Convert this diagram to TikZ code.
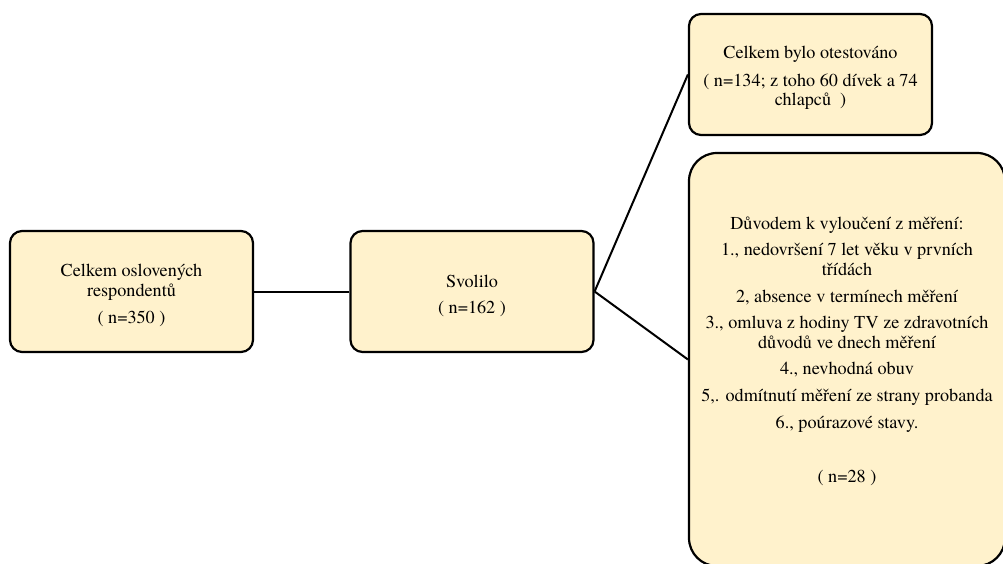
\documentclass[tikz,border=0pt]{standalone}
\usepackage{fontspec}
\setmainfont{texgyretermes-regular.otf}
\definecolor{boxfill}{HTML}{FFF2CC}
\newcommand{\topgap}[1]{\rule{0pt}{#1}}
\begin{document}
\begin{tikzpicture}[x=1pt,y=-1pt,
  box/.style={draw=black, line width=2.2pt, fill=boxfill, rounded corners=12pt,
    align=center, inner sep=0pt, font=\fontsize{18.2}{19.3}\selectfont},
  conn/.style={line width=2pt}]
\useasboundingbox (0,0) rectangle (1003,564);
\clip (0,0) rectangle (1003,564);
\node[box, minimum width=243pt, minimum height=121pt] (a) at (131.5,291.5)
  {\topgap{21pt}Celkem oslovených\\respondentů\\[8.5pt]( n=350 )};
\node[box, minimum width=243pt, minimum height=121pt] (b) at (472,291.5)
  {\topgap{21pt}Svolilo\\[7pt]( n=162 )};
\node[box, minimum width=243pt, minimum height=121pt] (c) at (810.5,74.5)
  {\topgap{19pt}Celkem bylo otestováno\\[8pt]( n=134; z toho 60 dívek a 74\\chlapců\ \ )};
\node[box, rounded corners=28pt, minimum width=316pt, minimum height=413pt] (d) at (847,359.5)
  {Důvodem k vyloučení z měření:\\[7.5pt]
   1., nedovršení 7 let věku v prvních\\třídách\\[7.5pt]
   2, absence v termínech měření\\[7.5pt]
   3., omluva z hodiny TV ze zdravotních\\důvodů ve dnech měření\\[7.5pt]
   4., nevhodná obuv\\[7.5pt]
   5,. odmítnutí měření ze strany probanda\\[7.5pt]
   6., poúrazové stavy.\\[7.5pt]
   \mbox{}\\[7.5pt]
   ( n=28 )\\[1pt]\mbox{}};
\draw[conn] (a.east) -- (b.west);
\draw[conn] (b.east) -- (c.west);
\draw[conn] (b.east) -- (d.west);
\end{tikzpicture}
\end{document}
